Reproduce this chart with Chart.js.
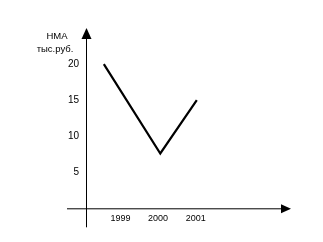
<!DOCTYPE html>
<html>
<head>
<meta charset="utf-8">
<script src="https://cdn.jsdelivr.net/npm/chart.js@4"></script>
<style>
    html, body { margin: 0; padding: 0; background: #fff; }
    #wrap { width: 323px; height: 242px; }
</style>
</head>
<body>
<div id="wrap"><canvas id="nmaChart" width="323" height="242"></canvas></div>
<script>
// данные графика
const years = [1998.56, 2000.06, 2001.03];
const nmaValues = [20, 7.6, 15];
const xTicks = [1999, 2000, 2001];
const yTicks = [5, 10, 15, 20];
const titleLines = ['НМА', 'тыс.руб.'];

const FONT = 'Liberation Sans, Arial, sans-serif';

// оси со стрелками и подпись оси Y
const axesPlugin = {
    id: 'axesArrows',
    afterDraw(chart) {
        const ctx = chart.ctx;
        const x = chart.scales.x;
        const y = chart.scales.y;
        const x0 = x.left;
        const y0 = y.getPixelForValue(0);
        const top = y.top;
        ctx.save();
        ctx.strokeStyle = '#000';
        ctx.fillStyle = '#000';
        ctx.lineWidth = 1;
        // вертикальная ось
        ctx.beginPath();
        ctx.moveTo(x0 + 0.5, top + 8);
        ctx.lineTo(x0 + 0.5, y0 + 19);
        ctx.stroke();
        ctx.beginPath();
        ctx.moveTo(x0 + 0.5, top);
        ctx.lineTo(x0 - 4.5, top + 11);
        ctx.lineTo(x0 + 5.5, top + 11);
        ctx.closePath();
        ctx.fill();
        // горизонтальная ось
        const right = x.right + 5;
        ctx.beginPath();
        ctx.moveTo(x0 - 19, y0 + 0.5);
        ctx.lineTo(right - 6, y0 + 0.5);
        ctx.stroke();
        ctx.beginPath();
        ctx.moveTo(right, y0 + 0.5);
        ctx.lineTo(right - 10, y0 - 4);
        ctx.lineTo(right - 10, y0 + 5);
        ctx.closePath();
        ctx.fill();
        // подпись
        ctx.font = '9.5px ' + FONT;
        ctx.textAlign = 'center';
        ctx.textBaseline = 'middle';
        ctx.fillText(titleLines[0], 57, 36);
        ctx.fillText(titleLines[1], 55, 49);
        ctx.restore();
    }
};

new Chart(document.getElementById('nmaChart'), {
    type: 'line',
    data: {
        datasets: [{
            data: years.map((yr, i) => ({x: yr, y: nmaValues[i]})),
            borderColor: '#000',
            borderWidth: 2.2,
            pointRadius: 0,
            tension: 0,
        }],
    },
    options: {
        responsive: false,
        animation: false,
        layout: {padding: {top: 28, right: 37, left: 0, bottom: 0}},
        plugins: {legend: {display: false}, tooltip: {enabled: false}},
        scales: {
            x: {
                type: 'linear',
                min: 1998.086,
                max: 2003.4,
                grid: {display: false, drawTicks: false},
                border: {display: false},
                afterBuildTicks: (scale) => { scale.ticks = xTicks.map(v => ({value: v})); },
                afterFit: (scale) => { scale.height = 33.7; },
                ticks: {
                    color: '#000',
                    padding: 5,
                    maxRotation: 0,
                    font: {family: FONT, size: 9},
                    callback: (v) => String(v),
                },
            },
            y: {
                min: 0,
                max: 25,
                grid: {display: false, drawTicks: false},
                border: {display: false},
                afterBuildTicks: (scale) => { scale.ticks = yTicks.map(v => ({value: v})); },
                afterFit: (scale) => { scale.width = 86; },
                ticks: {
                    color: '#000',
                    padding: 7,
                    font: {family: FONT, size: 10},
                    callback: (v) => String(v),
                },
            },
        },
    },
    plugins: [axesPlugin],
});
</script>
</body>
</html>
